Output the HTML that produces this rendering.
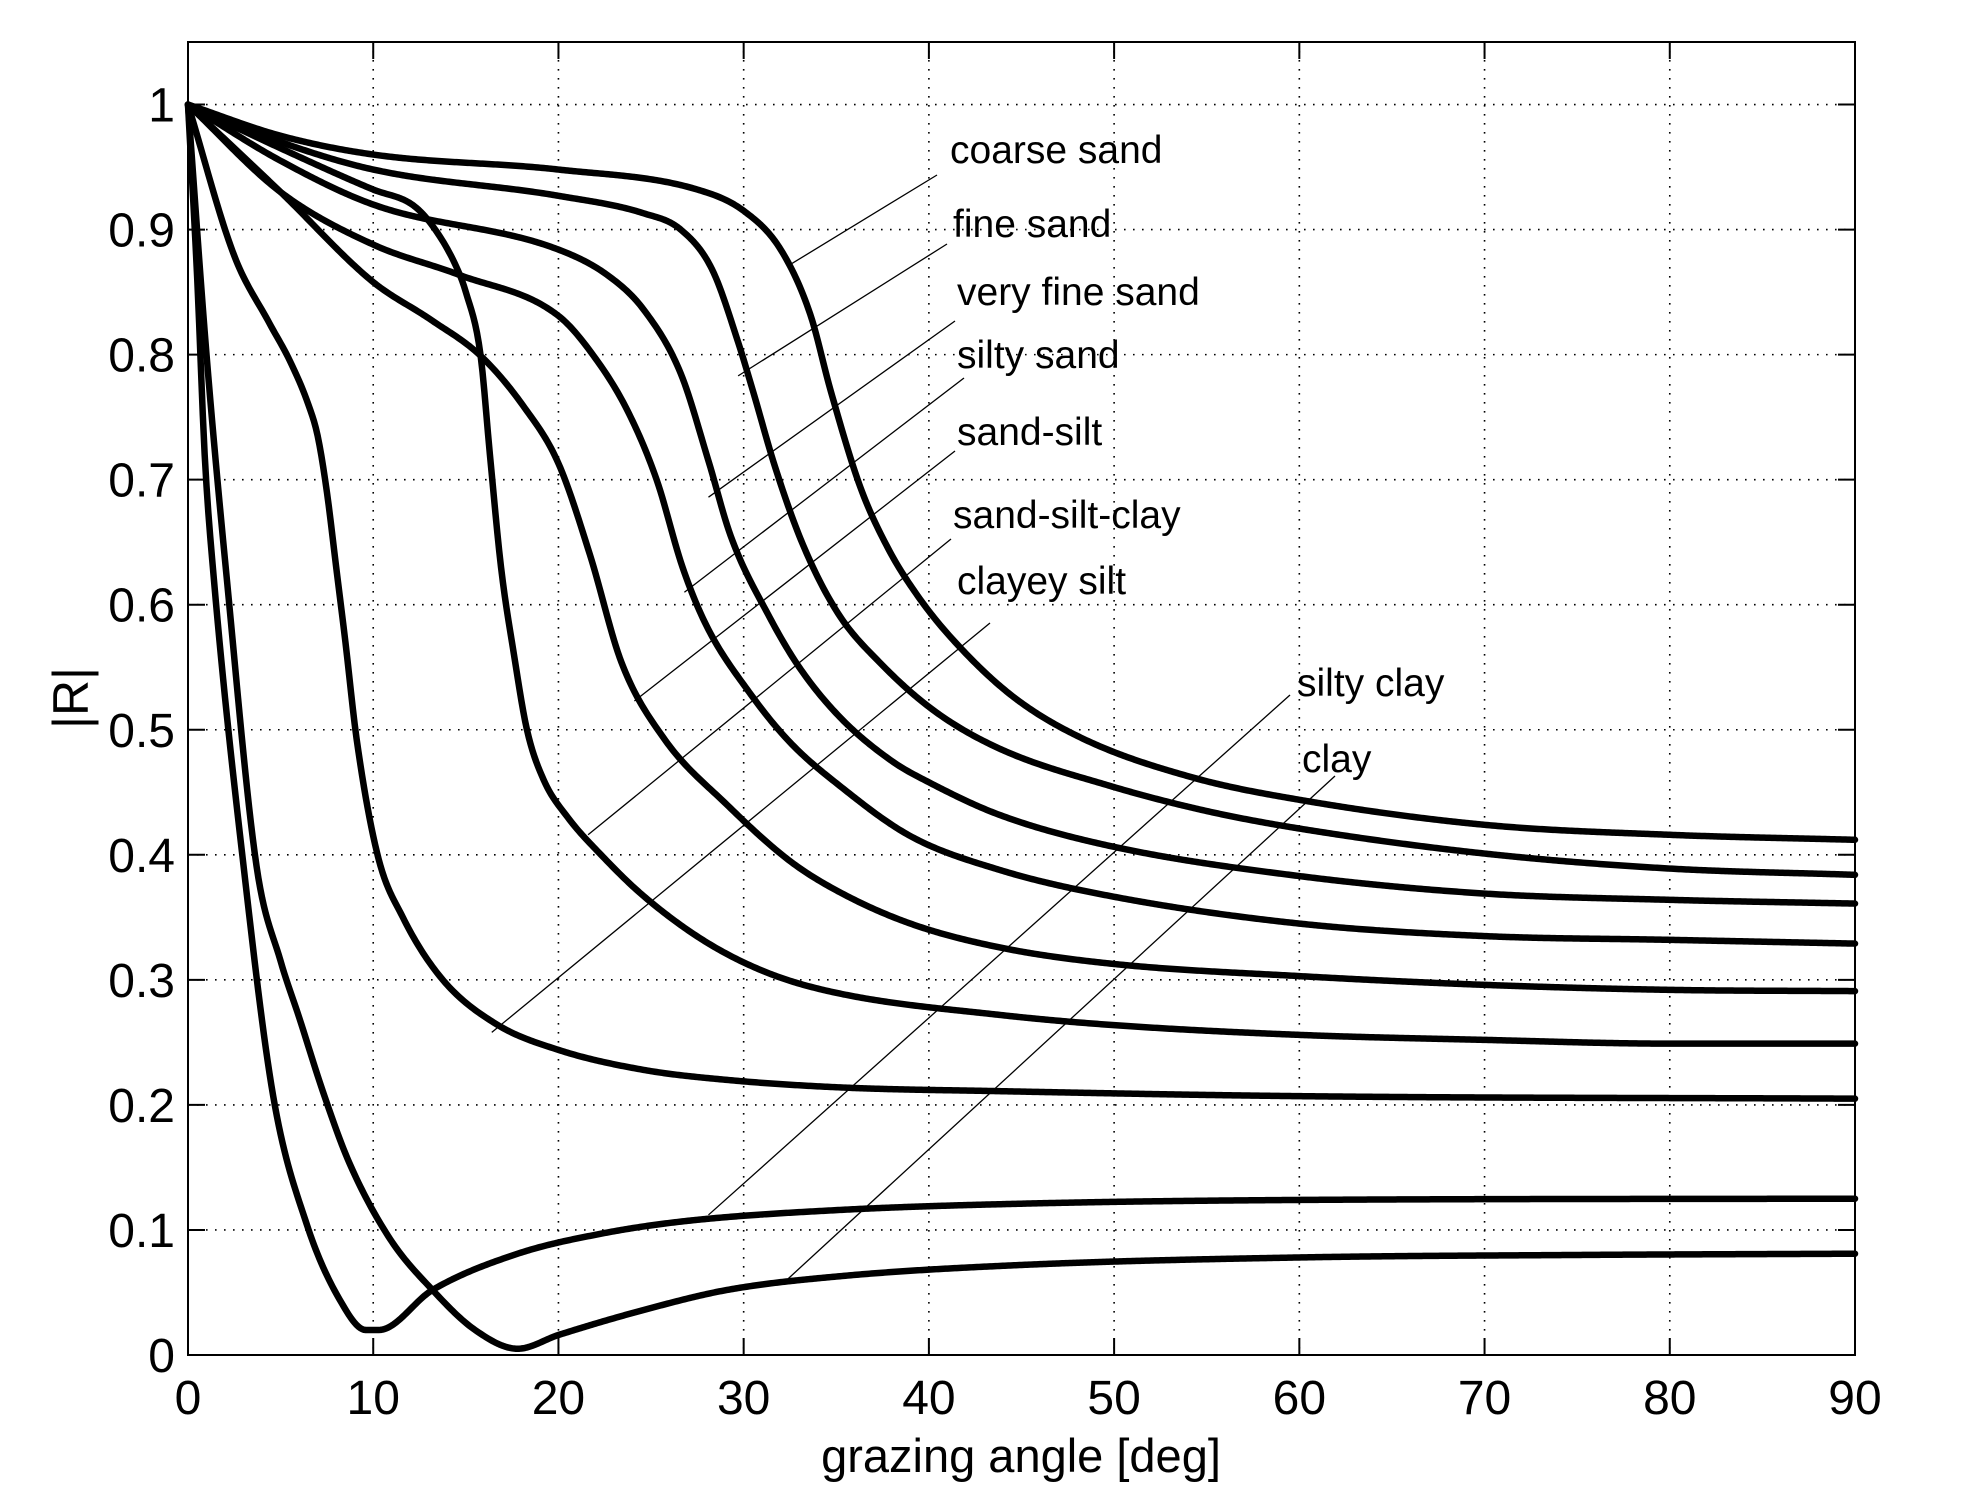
<!DOCTYPE html>
<html><head><meta charset="utf-8"><title>Reflection coefficient vs grazing angle</title>
<style>
html,body{margin:0;padding:0;background:#fff;}
svg{display:block;}
text{font-family:"Liberation Sans",Arial,sans-serif;fill:#000;}
</style></head>
<body>
<svg id="chart" width="1964" height="1510" viewBox="0 0 1964 1510" xmlns="http://www.w3.org/2000/svg">
<rect x="0" y="0" width="1964" height="1510" fill="#fff"/>
<g id="grid"></g>
<g id="curves"></g>
<g id="leaders"></g>
<g id="axes"></g>
<text x="1021" y="1472" font-size="47" text-anchor="middle">grazing angle [deg]</text>
<text x="0" y="0" font-size="50" text-anchor="middle" transform="translate(88,698) rotate(-90)">|R|</text>
</svg>
<script>
// ---- data ----
const xTicks = [0,10,20,30,40,50,60,70,80,90];
const yTicks = [0,0.1,0.2,0.3,0.4,0.5,0.6,0.7,0.8,0.9,1];
const yTickLabels = ["0","0.1","0.2","0.3","0.4","0.5","0.6","0.7","0.8","0.9","1"];
const seriesNames = ["coarse sand","fine sand","very fine sand","silty sand","sand-silt","sand-silt-clay","clayey silt","silty clay","clay"];

const coarseSandA = [0,5,10,20,27.5,30,32,33.6,34.7,36.3,37.8,39.4,41.3,44.5,48.3,54.2,60,70,80,90];
const coarseSandR = [1,0.975,0.96,0.948,0.932,0.915,0.884,0.832,0.771,0.694,0.645,0.607,0.572,0.527,0.493,0.462,0.444,0.424,0.416,0.412];
const fineSandA = [0,5,10,20,24.6,26.6,28.3,29.7,30.5,31.7,33.2,35.1,37.4,40.3,43.8,49.8,55,60,70,80,90];
const fineSandR = [1,0.97,0.948,0.927,0.913,0.9,0.868,0.81,0.771,0.71,0.648,0.593,0.553,0.515,0.485,0.455,0.435,0.421,0.401,0.389,0.384];
const veryFineSandA = [0,5,10,20,22.7,24.6,26.6,28.1,29.3,31.4,33,35.2,38,40,43.8,49.8,60,70,80,90];
const veryFineSandR = [1,0.955,0.92,0.884,0.863,0.836,0.785,0.715,0.655,0.59,0.55,0.51,0.475,0.458,0.432,0.407,0.383,0.369,0.364,0.361];
const siltySandA = [0,5,10,14.6,20,21.9,23.7,25.3,26.7,28,30.3,32.5,35.2,39,43.8,49.8,60,70,80,90];
const siltySandR = [1,0.93,0.888,0.864,0.831,0.799,0.756,0.7,0.63,0.583,0.53,0.49,0.455,0.415,0.388,0.367,0.345,0.335,0.332,0.329];
const sandSiltA = [0,5,10,13.1,15.8,18.1,20,21.7,23.4,25.7,29.1,32.5,35.2,39,43.8,49.8,60,70,80,90];
const sandSiltR = [1,0.93,0.858,0.828,0.799,0.759,0.713,0.64,0.554,0.493,0.44,0.395,0.37,0.345,0.326,0.313,0.303,0.296,0.292,0.291];
const sandSiltClayA = [0,5,10,12.1,13.1,14.4,15,15.8,16.3,16.9,17.6,18.3,19.2,20.5,22.3,24.6,28,31.4,35.2,43.8,49.8,60,70,80,90];
const sandSiltClayR = [1,0.965,0.932,0.92,0.905,0.873,0.85,0.799,0.72,0.63,0.56,0.5,0.46,0.43,0.4,0.367,0.33,0.305,0.289,0.272,0.264,0.256,0.252,0.249,0.249];
const clayeySiltA = [0,2.5,4.4,5.5,6.5,7.0,7.5,8.0,8.5,9.1,10.25,11.6,13.7,16.6,20,24.6,29.1,35.2,43.8,60,90];
const clayeySiltR = [1,0.879,0.825,0.795,0.76,0.735,0.69,0.63,0.57,0.493,0.399,0.35,0.301,0.265,0.244,0.228,0.22,0.214,0.211,0.207,0.205];
const siltyClayA = [0,0.5,0.9,1.4,3,4.6,6.4,8.2,9.6,10.3,13.2,17.8,22.3,26.8,35.2,45,60,90];
const siltyClayR = [1,0.86,0.72,0.62,0.391,0.207,0.105,0.044,0.02,0.02,0.052,0.081,0.097,0.107,0.116,0.121,0.124,0.125];
const clayA = [0,1,2.1,3.7,5,6,7.3,8.7,10.9,13.2,15.5,17.8,20,24.6,29.1,35.2,45,60,75,90];
const clayR = [1,0.8,0.62,0.391,0.315,0.27,0.21,0.154,0.093,0.052,0.02,0.005,0.016,0.036,0.052,0.063,0.072,0.078,0.08,0.081];

const leaderEndA = [32.4,29.7,28.1,26.8,24.1,21.6,16.4,28.1,32.4];
const leaderEndR = [0.871,0.783,0.686,0.610,0.523,0.416,0.258,0.112,0.061];

// ---- layout ----
const X0=188, X1=1855, Y0=1355, Y1=42;
const xScale = a => X0 + (a/90)*(X1-X0);
const yScale = r => Y0 - (r/1.05)*(Y0-Y1);
const NS="http://www.w3.org/2000/svg";
function mk(tag, attrs, parent){const e=document.createElementNS(NS,tag);for(const k in attrs)e.setAttribute(k,attrs[k]);parent.appendChild(e);return e;}

const grid=document.getElementById('grid'), axes=document.getElementById('axes'), curves=document.getElementById('curves'), leaders=document.getElementById('leaders');

xTicks.forEach((t,i)=>{
  const x=xScale(t);
  if(t>0 && t<90){
    const g=mk('line',{x1:x,y1:Y1,x2:x,y2:Y0,stroke:'#000','stroke-width':1.6,'stroke-dasharray':'1.6 7.4'},grid);
    
    
  }
  const t1=mk('line',{x1:x,y1:Y0,x2:x,y2:Y0-17,stroke:'#000','stroke-width':2},axes);
  
  
  const t2=mk('line',{x1:x,y1:Y1,x2:x,y2:Y1+17,stroke:'#000','stroke-width':2},axes);
  
  
  const lb=mk('text',{x:x,y:1414,'font-size':48,'text-anchor':'middle'},axes);
  lb.textContent=String(t);
  
  
});
yTicks.forEach((t,i)=>{
  const y=yScale(t);
  if(t>0){
    const g=mk('line',{x1:X0,y1:y,x2:X1,y2:y,stroke:'#000','stroke-width':1.6,'stroke-dasharray':'1.6 7.4'},grid);
    
    
  }
  const t1=mk('line',{x1:X0,y1:y,x2:X0+17,y2:y,stroke:'#000','stroke-width':2},axes);
  
  
  const t2=mk('line',{x1:X1,y1:y,x2:X1-17,y2:y,stroke:'#000','stroke-width':2},axes);
  
  
  const lb=mk('text',{x:175,y:y+17,'font-size':48,'text-anchor':'end'},axes);
  lb.textContent=yTickLabels[i];
  
  
});
const box=mk('rect',{x:X0,y:Y1,width:X1-X0,height:Y0-Y1,fill:'none',stroke:'#000','stroke-width':2},axes);



function monotone(xs, ys){
  const n=xs.length, d=[], m=new Array(n);
  for(let i=0;i<n-1;i++) d.push((ys[i+1]-ys[i])/(xs[i+1]-xs[i]));
  m[0]=d[0]; m[n-1]=d[n-2];
  for(let i=1;i<n-1;i++){ m[i]=(d[i-1]*d[i]<=0)?0:(d[i-1]+d[i])/2; }
  for(let i=0;i<n-1;i++){
    if(d[i]===0){m[i]=0;m[i+1]=0;continue;}
    const a=m[i]/d[i], b=m[i+1]/d[i], s=a*a+b*b;
    if(s>9){const t=3/Math.sqrt(s); m[i]=t*a*d[i]; m[i+1]=t*b*d[i];}
  }
  return x=>{
    let i=0; while(i<n-2 && x>xs[i+1]) i++;
    const h=xs[i+1]-xs[i], t=(x-xs[i])/h, t2=t*t, t3=t2*t;
    return (2*t3-3*t2+1)*ys[i]+(t3-2*t2+t)*h*m[i]+(-2*t3+3*t2)*ys[i+1]+(t3-t2)*h*m[i+1];
  };
}
const seriesA=[coarseSandA,fineSandA,veryFineSandA,siltySandA,sandSiltA,sandSiltClayA,clayeySiltA,siltyClayA,clayA];
const seriesR=[coarseSandR,fineSandR,veryFineSandR,siltySandR,sandSiltR,sandSiltClayR,clayeySiltR,siltyClayR,clayR];
const curveNames=['coarse-sand-curve','fine-sand-curve','very-fine-sand-curve','silty-sand-curve','sand-silt-curve','sand-silt-clay-curve','clayey-silt-curve','silty-clay-curve','clay-curve'];
seriesA.forEach((A,k)=>{
  const R=seriesR[k], f=monotone(A,R);
  let d='';
  const xs=[];
  for(let a=0;a<=90.0001;a+=0.1) xs.push(a);
  A.forEach(a=>xs.push(a));
  xs.sort((p,q)=>p-q);
  xs.forEach((a,j)=>{ d+=(j?'L':'M')+xScale(a).toFixed(2)+','+yScale(f(a)).toFixed(2); });
  const p=mk('path',{d:d,fill:'none',stroke:'#000','stroke-width':6.5,'stroke-linejoin':'round','stroke-linecap':'round'},curves);
  
  
});

const labelX=[950,953,957,957,957,953,957,1297,1302];
const labelY=[163,237,305,368,445,528,594,696,772];
const leadStartX=[937,947,955,964,955,951,990,1290,1335];
const leadStartY=[175,244,321,378,451,539,623,695,776];
const labelNames=['coarse-sand-label','fine-sand-label','very-fine-sand-label','silty-sand-label','sand-silt-label','sand-silt-clay-label','clayey-silt-label','silty-clay-label','clay-label'];
seriesNames.forEach((nm,k)=>{
  const ln=mk('line',{x1:leadStartX[k],y1:leadStartY[k],x2:xScale(leaderEndA[k]),y2:yScale(leaderEndR[k]),stroke:'#000','stroke-width':1.3},leaders);
  
  
  const tx=mk('text',{x:labelX[k],y:labelY[k],'font-size':39},leaders);
  tx.textContent=nm;
  
  
});
</script>
</body></html>
